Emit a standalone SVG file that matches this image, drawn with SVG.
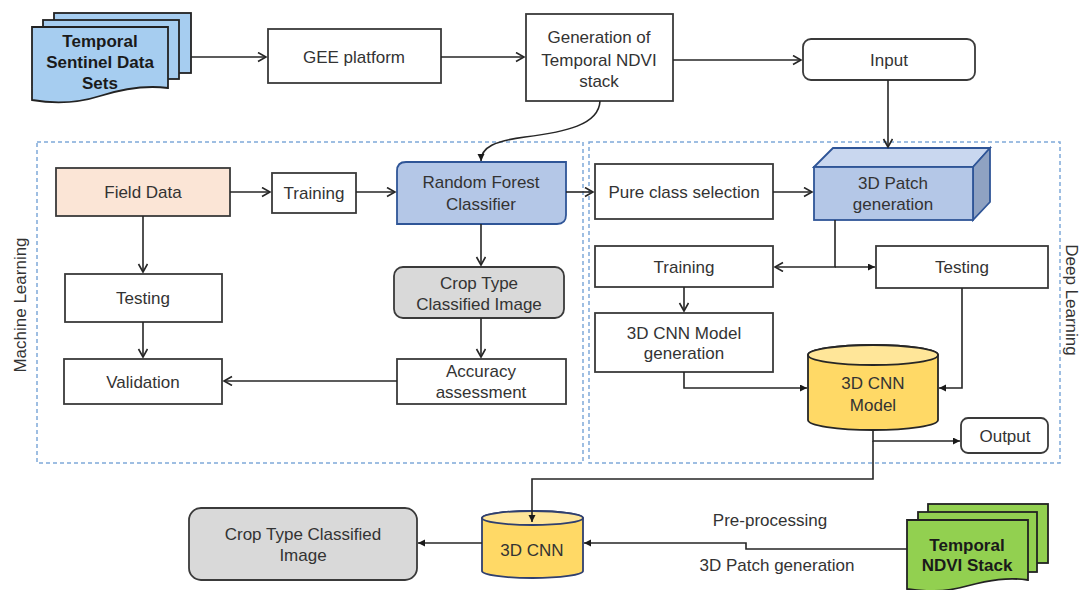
<svg xmlns="http://www.w3.org/2000/svg" width="1081" height="590" viewBox="0 0 1081 590">
<style>
text{font-family:"Liberation Sans",Arial,sans-serif;font-size:17px;fill:#333;text-anchor:middle;}
.b{font-weight:bold;fill:#1a1a1a;}
.box{fill:#fff;stroke:#3a3a3a;stroke-width:1.8;}
.sheet{stroke:#222;stroke-width:1.8;}
.dash{fill:none;stroke:#7fa9d9;stroke-width:1.5;stroke-dasharray:4 3;}
.c{fill:none;stroke:#262626;stroke-width:1.6;}
.o{marker-end:url(#open);}
.f{marker-end:url(#fill);}
</style>
<defs>
<marker id="open" markerUnits="userSpaceOnUse" markerWidth="12" markerHeight="12" refX="9" refY="5" orient="auto">
<path d="M1,0.5 L9,5 L1,9.5" fill="none" stroke="#262626" stroke-width="1.6"/>
</marker>
<marker id="fill" markerUnits="userSpaceOnUse" markerWidth="10" markerHeight="10" refX="7" refY="3.5" orient="auto">
<path d="M0,0 L7,3.5 L0,7 Z" fill="#1a1a1a"/>
</marker>
</defs>
<rect width="1081" height="590" fill="#fff"/>

<g id="groups">
<rect class="dash" x="37" y="142" width="546" height="321"/>
<rect class="dash" x="589" y="142" width="471" height="321"/>
<text x="20" y="305" transform="rotate(-90 20 305)" dominant-baseline="central">Machine Learning</text>
<text x="1071" y="300" transform="rotate(90 1071 300)" dominant-baseline="central">Deep Learning</text>
</g>

<g id="sentinel">
<rect class="sheet" x="54" y="13" width="137" height="60" fill="#a6cdf0"/>
<rect class="sheet" x="43" y="20" width="136" height="59" fill="#a6cdf0"/>
<path class="sheet" d="M32,27 H168 V88 C145,85 122,89 100,96 C78,103 55,104 32,100 Z" fill="#a6cdf0"/>
<text class="b" x="100" y="47">Temporal</text>
<text class="b" x="100" y="68">Sentinel Data</text>
<text class="b" x="100" y="89">Sets</text>
</g>

<g id="gee">
<rect class="box" x="268" y="29" width="173" height="54"/>
<text x="354" y="63">GEE platform</text>
</g>

<g id="generation">
<rect class="box" x="526" y="14" width="147" height="87"/>
<text x="599" y="43">Generation of</text>
<text x="599" y="66">Temporal NDVI</text>
<text x="599" y="87">stack</text>
</g>

<g id="input">
<rect class="box" x="803" y="39" width="172" height="41" rx="8"/>
<text x="889" y="66">Input</text>
</g>

<g id="field">
<rect class="box" x="56" y="168" width="174" height="48" style="fill:#fbe5d6"/>
<text x="143" y="198">Field Data</text>
</g>

<g id="training-ml">
<rect class="box" x="272" y="173" width="84" height="40"/>
<text x="314" y="199">Training</text>
</g>

<g id="rf">
<path d="M406,162 H566 V215 Q566,224 557,224 H397 V171 Q397,162 406,162 Z" fill="#b4c7e7" stroke="#2f5597" stroke-width="1.8"/>
<text x="481" y="188">Random Forest</text>
<text x="481" y="210">Classifier</text>
</g>

<g id="crop-ml">
<rect class="box" x="394" y="267" width="170" height="51" rx="9" style="fill:#d9d9d9"/>
<text x="479" y="289">Crop Type</text>
<text x="479" y="310">Classified Image</text>
</g>

<g id="testing-ml">
<rect class="box" x="65" y="274" width="157" height="48"/>
<text x="143" y="304">Testing</text>
</g>

<g id="validation">
<rect class="box" x="64" y="359" width="158" height="45"/>
<text x="143" y="388">Validation</text>
</g>

<g id="accuracy">
<rect class="box" x="397" y="359" width="169" height="45"/>
<text x="481" y="377">Accuracy</text>
<text x="481" y="398">assessment</text>
</g>

<g id="pure">
<rect class="box" x="595" y="164" width="178" height="55"/>
<text x="684" y="198">Pure class selection</text>
</g>

<g id="patch">
<polygon points="814,167 833,148 990,148 973,167" fill="#c9d7ef" stroke="#2f5597" stroke-width="1.8"/>
<polygon points="973,167 990,148 990,202 973,220" fill="#8fa2c2" stroke="#2f5597" stroke-width="1.8"/>
<rect x="814" y="167" width="159" height="53" fill="#b4c7e7" stroke="#2f5597" stroke-width="1.8"/>
<text x="893" y="189">3D Patch</text>
<text x="893" y="210">generation</text>
</g>

<g id="training-dl">
<rect class="box" x="595" y="246" width="178" height="41"/>
<text x="684" y="273">Training</text>
</g>

<g id="testing-dl">
<rect class="box" x="876" y="246" width="172" height="42"/>
<text x="962" y="273">Testing</text>
</g>

<g id="cnn-gen">
<rect class="box" x="595" y="313" width="178" height="59"/>
<text x="684" y="339">3D CNN Model</text>
<text x="684" y="359">generation</text>
</g>

<g id="cnn-model">
<path d="M808,355 V420 A65,10 0 0 0 938,420 V355 A65,10 0 0 0 808,355 Z" fill="#ffd966" stroke="#262626" stroke-width="1.8"/>
<ellipse cx="873" cy="355" rx="65" ry="10" fill="#ffe699" stroke="#262626" stroke-width="1.8"/>
<text x="873" y="389">3D CNN</text>
<text x="873" y="411">Model</text>
</g>

<g id="output">
<rect class="box" x="961" y="418" width="87" height="35" rx="7"/>
<text x="1005" y="442">Output</text>
</g>

<g id="cnn">
<path d="M482,518 V571 A50.5,7 0 0 0 583,571 V518 A50.5,7 0 0 0 482,518 Z" fill="#ffd966" stroke="#2f3f6f" stroke-width="1.8"/>
<ellipse cx="532.5" cy="518" rx="50.5" ry="7" fill="#ffe699" stroke="#2f3f6f" stroke-width="1.8"/>
<text x="532" y="556">3D CNN</text>
</g>

<g id="crop-final">
<rect class="box" x="189" y="508" width="228" height="72" rx="12" style="fill:#d9d9d9"/>
<text x="303" y="540">Crop Type Classified</text>
<text x="303" y="561">Image</text>
</g>

<g id="ndvi">
<rect class="sheet" x="928" y="504" width="120" height="59" fill="#92d050"/>
<rect class="sheet" x="918" y="512" width="119" height="60" fill="#92d050"/>
<path class="sheet" d="M907,520 H1028 V580 C1008,577 990,580 967,586 C945,592 925,592 907,589 Z" fill="#92d050"/>
<text class="b" x="967" y="551">Temporal</text>
<text class="b" x="967" y="571">NDVI Stack</text>
</g>

<g id="connectors">
<path class="c o" d="M191,57 H266"/>
<path class="c o" d="M441,57 H524"/>
<path class="c o" d="M673,60 H801"/>
<path class="c o" d="M888,80 V147"/>
<path class="c f" d="M600,101 C599,125 565,132 525,137 C495,141 481,147 481,161"/>
<path class="c o" d="M230,192 H270"/>
<path class="c o" d="M356,192 H395"/>
<path class="c o" d="M566,192 H593"/>
<path class="c o" d="M773,192 H812"/>
<path class="c o" d="M143,216 V272"/>
<path class="c o" d="M143,322 V357"/>
<path class="c o" d="M481,224 V265"/>
<path class="c o" d="M481,318 V357"/>
<path class="c o" d="M397,381 H224"/>
<path class="c o" d="M835,220 V267 H775"/>
<path class="c f" d="M835,267 H875"/>
<path class="c o" d="M684,287 V311"/>
<path class="c f" d="M684,372 V388 H807"/>
<path class="c f" d="M962,288 V388 H939"/>
<path class="c f" d="M873,430 V441 H960"/>
<path class="c f" d="M873,441 V479 H532 V522"/>
<path class="c f" d="M482,543 H418"/>
<path class="c f" d="M907,549 H746 V543 H584"/>
<text x="770" y="526">Pre-processing</text>
<text x="777" y="571">3D Patch generation</text>
</g>
</svg>
